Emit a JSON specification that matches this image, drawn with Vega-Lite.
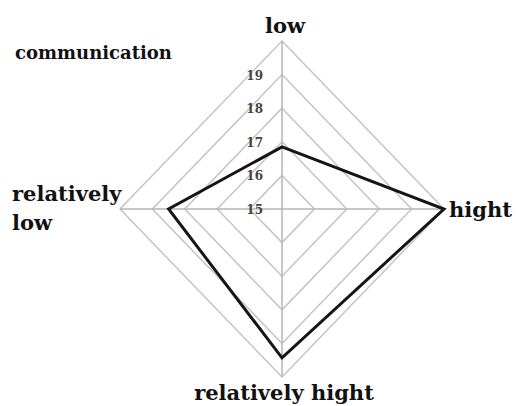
{
  "$schema": "https://vega.github.io/schema/vega-lite/v6.json",
  "width": 324,
  "height": 336,
  "autosize": "none",
  "padding": {"left": 120, "top": 41, "right": 72, "bottom": 29},
  "background": "white",
  "config": {"view": {"stroke": null}},
  "title": {
    "text": "communication",
    "anchor": "start",
    "frame": "group",
    "font": "DejaVu Serif",
    "fontSize": 18,
    "fontWeight": "bold",
    "color": "#111111",
    "dx": -105,
    "offset": 0,
    "dy": 61,
    "baseline": "alphabetic"
  },
  "datasets": {
    "rings": [
      {"level": 16, "i": 0}, {"level": 16, "i": 1}, {"level": 16, "i": 2}, {"level": 16, "i": 3},
      {"level": 17, "i": 0}, {"level": 17, "i": 1}, {"level": 17, "i": 2}, {"level": 17, "i": 3},
      {"level": 18, "i": 0}, {"level": 18, "i": 1}, {"level": 18, "i": 2}, {"level": 18, "i": 3},
      {"level": 19, "i": 0}, {"level": 19, "i": 1}, {"level": 19, "i": 2}, {"level": 19, "i": 3},
      {"level": 20, "i": 0}, {"level": 20, "i": 1}, {"level": 20, "i": 2}, {"level": 20, "i": 3}
    ],
    "scores": [
      {"axis": "low", "i": 0, "value": 16.85},
      {"axis": "hight", "i": 1, "value": 20},
      {"axis": "relatively hight", "i": 2, "value": 19.43},
      {"axis": "relatively low", "i": 3, "value": 18.5}
    ],
    "ticks": [
      {"tick": 15}, {"tick": 16}, {"tick": 17}, {"tick": 18}, {"tick": 19}
    ],
    "labels": [
      {"label": "low", "i": 0, "level": 20},
      {"label": "hight", "i": 1, "level": 20},
      {"label": "relatively hight", "i": 2, "level": 20},
      {"label": "relatively\nlow", "i": 3, "level": 20}
    ]
  },
  "layer": [
    {
      "data": {"name": "rings"},
      "transform": [
        {"calculate": "(datum.level - 15) * sin(datum.i * PI / 2)", "as": "x"},
        {"calculate": "(datum.level - 15) * cos(datum.i * PI / 2)", "as": "y"}
      ],
      "mark": {"type": "line", "interpolate": "linear-closed", "stroke": "#c4c4c4", "strokeWidth": 1.5},
      "encoding": {
        "x": {"field": "x", "type": "quantitative", "scale": {"domain": [-5, 5], "nice": false, "zero": false}, "axis": null},
        "y": {"field": "y", "type": "quantitative", "scale": {"domain": [-5, 5], "nice": false, "zero": false}, "axis": null},
        "detail": {"field": "level", "type": "nominal"},
        "order": {"field": "i", "type": "quantitative"}
      }
    },
    {
      "data": {"name": "rings"},
      "transform": [
        {"filter": "datum.level == 20"},
        {"calculate": "(datum.level - 15) * sin(datum.i * PI / 2)", "as": "x"},
        {"calculate": "(datum.level - 15) * cos(datum.i * PI / 2)", "as": "y"}
      ],
      "mark": {"type": "rule", "stroke": "#b4b4b4", "strokeWidth": 1.5},
      "encoding": {
        "x": {"field": "x", "type": "quantitative"},
        "y": {"field": "y", "type": "quantitative"},
        "x2": {"datum": 0},
        "y2": {"datum": 0}
      }
    },
    {
      "data": {"name": "scores"},
      "transform": [
        {"calculate": "(datum.value - 15) * sin(datum.i * PI / 2)", "as": "x"},
        {"calculate": "(datum.value - 15) * cos(datum.i * PI / 2)", "as": "y"}
      ],
      "mark": {"type": "line", "interpolate": "linear-closed", "stroke": "#151515", "strokeWidth": 3},
      "encoding": {
        "x": {"field": "x", "type": "quantitative"},
        "y": {"field": "y", "type": "quantitative"},
        "order": {"field": "i", "type": "quantitative"}
      }
    },
    {
      "data": {"name": "ticks"},
      "transform": [
        {"calculate": "0", "as": "x"},
        {"calculate": "datum.tick - 15", "as": "y"}
      ],
      "mark": {"type": "text", "align": "right", "baseline": "middle", "dx": -19, "dy": 1, "font": "DejaVu Serif", "fontSize": 12, "fontWeight": "bold", "color": "#444444"},
      "encoding": {
        "x": {"field": "x", "type": "quantitative"},
        "y": {"field": "y", "type": "quantitative"},
        "text": {"field": "tick", "type": "nominal"}
      }
    },
    {
      "data": {"name": "labels"},
      "transform": [
        {"filter": "datum.i == 0"},
        {"calculate": "(datum.level - 15) * sin(datum.i * PI / 2)", "as": "x"},
        {"calculate": "(datum.level - 15) * cos(datum.i * PI / 2)", "as": "y"}
      ],
      "mark": {"type": "text", "align": "center", "baseline": "alphabetic", "dx": 3, "dy": -8, "font": "DejaVu Serif", "fontSize": 21, "fontWeight": "bold", "color": "#111111"},
      "encoding": {
        "x": {"field": "x", "type": "quantitative"},
        "y": {"field": "y", "type": "quantitative"},
        "text": {"field": "label", "type": "nominal"}
      }
    },
    {
      "data": {"name": "labels"},
      "transform": [
        {"filter": "datum.i == 1"},
        {"calculate": "(datum.level - 15) * sin(datum.i * PI / 2)", "as": "x"},
        {"calculate": "(datum.level - 15) * cos(datum.i * PI / 2)", "as": "y"}
      ],
      "mark": {"type": "text", "align": "left", "baseline": "alphabetic", "dx": 5, "dy": 8, "font": "DejaVu Serif", "fontSize": 21, "fontWeight": "bold", "color": "#111111"},
      "encoding": {
        "x": {"field": "x", "type": "quantitative"},
        "y": {"field": "y", "type": "quantitative"},
        "text": {"field": "label", "type": "nominal"}
      }
    },
    {
      "data": {"name": "labels"},
      "transform": [
        {"filter": "datum.i == 2"},
        {"calculate": "(datum.level - 15) * sin(datum.i * PI / 2)", "as": "x"},
        {"calculate": "(datum.level - 15) * cos(datum.i * PI / 2)", "as": "y"}
      ],
      "mark": {"type": "text", "align": "center", "baseline": "alphabetic", "dx": 2, "dy": 23, "font": "DejaVu Serif", "fontSize": 21, "fontWeight": "bold", "color": "#111111"},
      "encoding": {
        "x": {"field": "x", "type": "quantitative"},
        "y": {"field": "y", "type": "quantitative"},
        "text": {"field": "label", "type": "nominal"}
      }
    },
    {
      "data": {"name": "labels"},
      "transform": [
        {"filter": "datum.i == 3"},
        {"calculate": "(datum.level - 15) * sin(datum.i * PI / 2)", "as": "x"},
        {"calculate": "(datum.level - 15) * cos(datum.i * PI / 2)", "as": "y"}
      ],
      "mark": {"type": "text", "align": "left", "baseline": "alphabetic", "dx": -108, "dy": -8, "lineBreak": "\n", "lineHeight": 29, "font": "DejaVu Serif", "fontSize": 21, "fontWeight": "bold", "color": "#111111"},
      "encoding": {
        "x": {"field": "x", "type": "quantitative"},
        "y": {"field": "y", "type": "quantitative"},
        "text": {"field": "label", "type": "nominal"}
      }
    }
  ]
}
